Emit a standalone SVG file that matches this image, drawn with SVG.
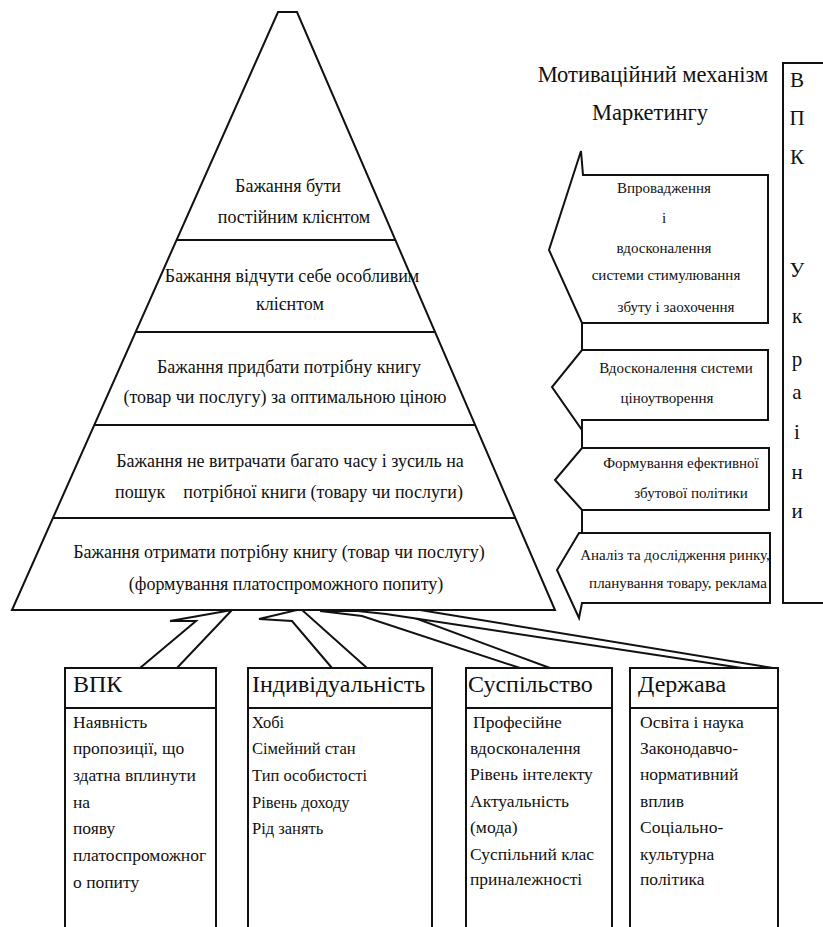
<svg xmlns="http://www.w3.org/2000/svg" width="823" height="927" viewBox="0 0 823 927">
<style>
  .ln { fill: none; stroke: #111; stroke-width: 2; stroke-linejoin: miter; }
  .sh { fill: #fff; stroke: #111; stroke-width: 2; stroke-linejoin: miter; }
  text { font-family: "Liberation Serif", "Times New Roman", "DejaVu Serif", serif; fill: #111; }
  .pt { font-size: 18px; text-anchor: middle; }
  .ti { font-size: 22.5px; text-anchor: middle; }
  .at { font-size: 15px; text-anchor: middle; }
  .vl { font-size: 21px; text-anchor: middle; }
  .hd { font-size: 24px; }
  .bd { font-size: 17.5px; }
  .bi { font-size: 16.5px; }
</style>
<rect x="0" y="0" width="823" height="927" fill="#fff"/>

<g id="connectors">
  <polygon class="sh" points="140,668 196,621 170,621 232,610 177,668"/>
  <polygon class="sh" points="332,668 292,621 259,619 301,609 367,668"/>
  <polygon class="sh" points="520,668 362,616 320,611 396,611 550,668"/>
  <polygon class="sh" points="742,668 386,614 348,610 420,610 773,668"/>
</g>

<g id="pyramid">
  <polygon class="sh" points="278,12 297,12 555,610 12,610"/>
  <line class="ln" x1="176.6" y1="240" x2="395.4" y2="240"/>
  <line class="ln" x1="135.7" y1="332" x2="435.1" y2="332"/>
  <line class="ln" x1="94.3" y1="425" x2="475.2" y2="425"/>
  <line class="ln" x1="52.9" y1="518" x2="515.3" y2="518"/>
</g>
<g id="level1">
  <text class="pt" x="288" y="192">Бажання бути</text>
  <text class="pt" x="294" y="223">постійним клієнтом</text>
</g>
<g id="level2">
  <text class="pt" x="292" y="282">Бажання відчути себе особливим</text>
  <text class="pt" x="290" y="310">клієнтом</text>
</g>
<g id="level3">
  <text class="pt" x="289" y="373">Бажання придбати потрібну книгу</text>
  <text class="pt" x="285" y="403">(товар чи послугу) за оптимальною ціною</text>
</g>
<g id="level4">
  <text class="pt" x="290" y="467">Бажання не витрачати багато часу і зусиль на</text>
  <text class="pt" x="289" y="498" style="white-space:pre">пошук    потрібної книги (товару чи послуги)</text>
</g>
<g id="level5">
  <text class="pt" x="279" y="558">Бажання отримати потрібну книгу (товар чи послугу)</text>
  <text class="pt" x="286" y="590">(формування платоспроможного попиту)</text>
</g>

<g id="title">
  <text class="ti" x="653" y="82">Мотиваційний механізм</text>
  <text class="ti" x="650" y="120">Маркетингу</text>
</g>

<g id="vpk-ukrainy">
  <rect class="ln" x="783" y="63" width="60" height="540"/>
  <text class="vl" x="797" y="87">В</text>
  <text class="vl" x="797" y="125">П</text>
  <text class="vl" x="797" y="164">К</text>
  <text class="vl" x="797" y="277">У</text>
  <text class="vl" x="797" y="323">к</text>
  <text class="vl" x="797" y="366">р</text>
  <text class="vl" x="797" y="399">а</text>
  <text class="vl" x="797" y="439">і</text>
  <text class="vl" x="797" y="479">н</text>
  <text class="vl" x="797" y="518">и</text>
</g>

<g id="gaps">
  <line class="ln" x1="582" y1="323" x2="582" y2="350"/>
  <line class="ln" x1="582" y1="420" x2="582" y2="448"/>
  <line class="ln" x1="582" y1="510" x2="582" y2="533"/>
</g>
<g id="arrow1">
  <polygon class="sh" points="583,175 768,175 768,323 582,323 549,250 581,151 583,175"/>
  <text class="at" x="664" y="193">Впровадження</text>
  <text class="at" x="664" y="223">і</text>
  <text class="at" x="664" y="253">вдосконалення</text>
  <text class="at" x="666" y="280">системи стимулювання</text>
  <text class="at" x="676" y="312">збуту і заохочення</text>
</g>
<g id="arrow2">
  <polygon class="sh" points="582,350 768,350 768,420 582,420 582,430 552,387"/>
  <text class="at" x="676" y="373">Вдосконалення системи</text>
  <text class="at" x="667" y="403">ціноутворення</text>
</g>
<g id="arrow3">
  <polygon class="sh" points="582,448 769,448 769,510 582,510 555,480"/>
  <text class="at" x="681" y="468">Формування ефективної</text>
  <text class="at" x="691" y="498">збутової політики</text>
</g>
<g id="arrow4">
  <polygon class="sh" points="579,533 770,533 770,603 582,603 579,618 557,570"/>
  <text class="at" x="675" y="560">Аналіз та дослідження ринку,</text>
  <text class="at" x="678" y="588">планування товару, реклама</text>
</g>

<g id="box-vpk">
  <rect class="ln" x="65" y="668" width="151" height="280"/>
  <line class="ln" x1="65" y1="708" x2="216" y2="708"/>
  <text class="hd" x="73" y="692">ВПК</text>
  <text class="bd" x="73" y="728">Наявність</text>
  <text class="bd" x="73" y="754">пропозиції, що</text>
  <text class="bd" x="73" y="781">здатна вплинути</text>
  <text class="bd" x="73" y="808">на</text>
  <text class="bd" x="73" y="834">появу</text>
  <text class="bd" x="73" y="861">платоспроможног</text>
  <text class="bd" x="73" y="888">о попиту</text>
</g>
<g id="box-individ">
  <rect class="ln" x="248" y="668" width="184" height="280"/>
  <line class="ln" x1="248" y1="708" x2="432" y2="708"/>
  <text class="hd" x="252" y="692">Індивідуальність</text>
  <text class="bi" x="252" y="728">Хобі</text>
  <text class="bi" x="252" y="754">Сімейний стан</text>
  <text class="bi" x="252" y="781">Тип особистості</text>
  <text class="bi" x="252" y="808">Рівень доходу</text>
  <text class="bi" x="252" y="834">Рід занять</text>
</g>
<g id="box-suspilstvo">
  <rect class="ln" x="466" y="668" width="146" height="280"/>
  <line class="ln" x1="466" y1="708" x2="612" y2="708"/>
  <text class="hd" x="468" y="692">Суспільство</text>
  <text class="bd" x="473" y="728">Професійне</text>
  <text class="bd" x="470" y="754">вдосконалення</text>
  <text class="bd" x="470" y="780">Рівень інтелекту</text>
  <text class="bd" x="470" y="807">Актуальність</text>
  <text class="bd" x="470" y="833">(мода)</text>
  <text class="bd" x="470" y="860">Суспільний клас</text>
  <text class="bd" x="470" y="885">приналежності</text>
</g>
<g id="box-derzhava">
  <rect class="ln" x="630" y="668" width="148" height="280"/>
  <line class="ln" x1="630" y1="708" x2="778" y2="708"/>
  <text class="hd" x="638" y="692">Держава</text>
  <text class="bd" x="640" y="728">Освіта і наука</text>
  <text class="bd" x="640" y="754">Законодавчо-</text>
  <text class="bd" x="640" y="780">нормативний</text>
  <text class="bd" x="640" y="807">вплив</text>
  <text class="bd" x="640" y="833">Соціально-</text>
  <text class="bd" x="640" y="860">культурна</text>
  <text class="bd" x="640" y="885">політика</text>
</g>
</svg>
